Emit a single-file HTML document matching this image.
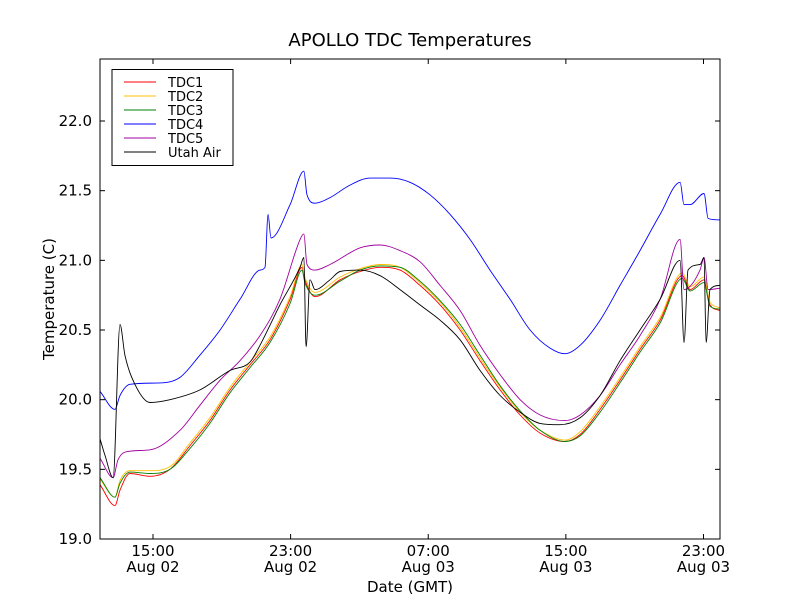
<!DOCTYPE html>
<html><head><meta charset="utf-8"><style>
body{margin:0;background:#fff;}
svg{display:block;font-family:"DejaVu Sans","Liberation Sans",sans-serif;}
</style></head><body>
<svg id="chart" width="800" height="600" viewBox="0 0 800 600">
<rect width="800" height="600" fill="#fff"/>
<text x="410" y="46" font-size="18" text-anchor="middle">APOLLO TDC Temperatures</text>
<g id="plot"></g>
<rect x="100" y="59" width="620" height="480" fill="none" stroke="#000" stroke-width="1"/>
<g id="axes"></g>
<text x="410" y="592" font-size="15" text-anchor="middle">Date (GMT)</text>
<text x="54" y="299" font-size="15" text-anchor="middle" transform="rotate(-90 54 299)">Temperature (C)</text>
<g id="legend"></g>
</svg>
<script>
// hours since Aug 02 00:00 GMT
const seriesNames = ["TDC1","TDC2","TDC3","TDC4","TDC5","Utah Air"];
const seriesColors = ["#ff0000","#ffbf00","#008000","#0000ff","#a000a0","#000000"];
const tdc1 = [[11.92,19.39],[12.79,19.24],[13.08,19.35],[13.66,19.47],[14.83,19.45],[15.99,19.50],[17.15,19.67],[18.31,19.85],[19.48,20.07],[20.64,20.25],[21.80,20.43],[22.97,20.72],[23.66,20.95],[23.83,20.86],[24.42,20.74],[25.87,20.86],[27.04,20.92],[28.20,20.95],[29.36,20.93],[30.52,20.82],[31.69,20.68],[32.85,20.50],[34.01,20.28],[35.18,20.07],[36.34,19.89],[37.50,19.76],[38.95,19.70],[39.83,19.75],[40.99,19.93],[42.15,20.14],[43.31,20.36],[44.48,20.57],[45.76,20.89],[46.22,20.79],[47.03,20.86],[47.38,20.68],[47.96,20.64]];
const tdc2 = [[11.92,19.43],[12.79,19.30],[13.08,19.42],[13.66,19.49],[14.83,19.49],[15.99,19.52],[17.15,19.69],[18.31,19.87],[19.48,20.09],[20.64,20.27],[21.80,20.45],[22.97,20.74],[23.66,20.97],[23.83,20.88],[24.42,20.77],[25.87,20.88],[27.04,20.94],[28.20,20.97],[29.36,20.95],[30.52,20.84],[31.69,20.70],[32.85,20.52],[34.01,20.30],[35.18,20.09],[36.34,19.91],[37.50,19.78],[38.95,19.71],[39.83,19.77],[40.99,19.95],[42.15,20.16],[43.31,20.38],[44.48,20.59],[45.76,20.91],[46.22,20.81],[47.03,20.88],[47.38,20.70],[47.96,20.66]];
const tdc3 = [[11.92,19.44],[12.79,19.30],[13.08,19.40],[13.66,19.48],[14.83,19.47],[15.99,19.50],[17.15,19.65],[18.31,19.83],[19.48,20.05],[20.64,20.23],[21.80,20.41],[22.97,20.69],[23.66,20.93],[23.83,20.84],[24.42,20.75],[25.87,20.85],[27.04,20.93],[28.20,20.96],[29.36,20.95],[30.52,20.85],[31.69,20.71],[32.85,20.54],[34.01,20.32],[35.18,20.10],[36.34,19.92],[37.50,19.78],[38.95,19.70],[39.83,19.74],[40.99,19.91],[42.15,20.12],[43.31,20.34],[44.48,20.55],[45.76,20.87],[46.22,20.78],[47.03,20.84],[47.38,20.67],[47.96,20.65]];
const tdc4 = [[11.92,20.06],[12.79,19.93],[13.08,20.03],[13.66,20.11],[15.41,20.12],[16.57,20.16],[17.73,20.32],[18.90,20.50],[20.06,20.72],[21.22,20.93],[21.51,20.95],[21.69,21.33],[21.86,21.16],[22.97,21.40],[23.77,21.64],[23.95,21.47],[24.42,21.41],[25.29,21.45],[26.45,21.54],[27.62,21.59],[28.78,21.59],[29.94,21.56],[31.10,21.47],[32.27,21.33],[33.43,21.15],[34.59,20.93],[35.76,20.72],[36.92,20.50],[38.08,20.37],[38.95,20.33],[39.83,20.39],[40.99,20.57],[42.15,20.82],[43.31,21.07],[44.48,21.33],[45.64,21.56],[45.87,21.40],[46.22,21.40],[47.03,21.48],[47.27,21.30],[47.96,21.29]];
const tdc5 = [[11.92,19.58],[12.68,19.44],[12.97,19.57],[13.66,19.63],[14.83,19.64],[16.57,19.78],[17.73,19.96],[18.90,20.14],[20.06,20.28],[21.22,20.46],[22.38,20.72],[23.55,21.15],[23.77,21.19],[23.95,20.97],[24.42,20.93],[25.29,20.97],[27.04,21.09],[28.20,21.11],[29.36,21.07],[30.52,20.99],[31.69,20.82],[32.85,20.64],[34.01,20.39],[35.18,20.18],[36.34,20.00],[37.50,19.89],[38.95,19.85],[39.83,19.89],[40.99,20.03],[42.15,20.25],[43.31,20.46],[44.48,20.72],[45.64,21.15],[45.87,20.79],[46.80,20.93],[47.03,21.02],[47.27,20.79],[47.96,20.80]];
const utahAir = [[11.92,19.72],[12.21,19.60],[12.68,19.44],[13.08,20.54],[13.37,20.32],[13.95,20.11],[14.83,19.98],[15.99,20.00],[17.73,20.07],[19.48,20.21],[20.64,20.27],[21.22,20.39],[22.38,20.68],[23.55,20.95],[23.77,21.02],[23.90,20.38],[24.13,20.86],[24.42,20.79],[25.29,20.86],[25.87,20.92],[27.04,20.93],[28.20,20.89],[29.36,20.79],[30.52,20.68],[31.69,20.57],[32.85,20.43],[34.01,20.21],[35.18,20.03],[36.34,19.91],[37.50,19.83],[38.66,19.82],[39.83,19.87],[40.99,20.03],[42.15,20.28],[43.31,20.50],[44.48,20.72],[45.64,21.00],[45.87,20.41],[46.10,20.93],[46.80,20.97],[47.03,21.02],[47.15,20.41],[47.38,20.79],[47.96,20.82]];
const yTicks = [19.0,19.5,20.0,20.5,21.0,21.5,22.0];
const xTicks = [15,23,31,39,47];
const xTickLabels = [["15:00","Aug 02"],["23:00","Aug 02"],["07:00","Aug 03"],["15:00","Aug 03"],["23:00","Aug 03"]];

const X0=100,X1=720,Y0=539,Y1=59;
const xMin=11.92,xMax=47.96,yMin=19.0,yMax=22.445;
const sx=h=>X0+(h-xMin)/(xMax-xMin)*(X1-X0);
const sy=v=>Y0-(v-yMin)/(yMax-yMin)*(Y0-Y1);
const NS="http://www.w3.org/2000/svg";
function mk(tag,attrs,parent){const e=document.createElementNS(NS,tag);for(const k in attrs)e.setAttribute(k,attrs[k]);parent.appendChild(e);return e;}

// monotone cubic path (no overshoot)
function monoPath(pts){
  const n=pts.length;const d=[],m=[];
  for(let i=0;i<n-1;i++)d.push((pts[i+1][1]-pts[i][1])/(pts[i+1][0]-pts[i][0]));
  m[0]=d[0];m[n-1]=d[n-2];
  for(let i=1;i<n-1;i++)m[i]=(d[i-1]*d[i]<=0)?0:(d[i-1]+d[i])/2;
  for(let i=0;i<n-1;i++){
    if(d[i]===0){m[i]=0;m[i+1]=0;continue;}
    const a=m[i]/d[i],b=m[i+1]/d[i],s=a*a+b*b;
    if(s>9){const t=3/Math.sqrt(s);m[i]=t*a*d[i];m[i+1]=t*b*d[i];}
  }
  let p='M'+pts[0][0].toFixed(1)+','+pts[0][1].toFixed(1);
  for(let i=0;i<n-1;i++){
    const h=(pts[i+1][0]-pts[i][0])/3;
    p+=' C'+(pts[i][0]+h).toFixed(1)+','+(pts[i][1]+m[i]*h).toFixed(1)+' '+(pts[i+1][0]-h).toFixed(1)+','+(pts[i+1][1]-m[i+1]*h).toFixed(1)+' '+pts[i+1][0].toFixed(1)+','+pts[i+1][1].toFixed(1);
  }
  return p;
}

const plot=document.getElementById('plot');
const allSeries=[tdc1,tdc2,tdc3,tdc4,tdc5,utahAir];
allSeries.forEach((s,i)=>{
  const pts=s.map(d=>[sx(d[0]),sy(d[1])]);
  const p=mk('path',{d:monoPath(pts),fill:'none',stroke:seriesColors[i],'stroke-width':0.9},plot);
  
  
});

const axes=document.getElementById('axes');
yTicks.forEach(v=>{
  const y=sy(v);
  mk('line',{x1:X0,y1:y,x2:X0+5,y2:y,stroke:'#000'},axes);
  mk('line',{x1:X1,y1:y,x2:X1-5,y2:y,stroke:'#000'},axes);
  const t=mk('text',{x:X0-8,y:y+5,'font-size':15,'text-anchor':'end'},axes);
  t.textContent=v.toFixed(1);
  
  
});
xTicks.forEach((h,i)=>{
  const x=sx(h);
  mk('line',{x1:x,y1:Y0,x2:x,y2:Y0-5,stroke:'#000'},axes);
  mk('line',{x1:x,y1:Y1,x2:x,y2:Y1+5,stroke:'#000'},axes);
  const t=mk('text',{x:x,y:556,'font-size':15,'text-anchor':'middle'},axes);
  
  
  const a=mk('tspan',{x:x,dy:0},t);a.textContent=xTickLabels[i][0];
  const b=mk('tspan',{x:x,dy:16},t);b.textContent=xTickLabels[i][1];
});

const lg=document.getElementById('legend');
mk('rect',{x:112,y:69.5,width:121,height:96,fill:'#fff',stroke:'#000'},lg);
seriesNames.forEach((n,i)=>{
  const y=82+i*14;
  const l=mk('line',{x1:124,y1:y,x2:156,y2:y,stroke:seriesColors[i],'stroke-width':1},lg);
  
  
  const t=mk('text',{x:168,y:y+5,'font-size':13},lg);
  t.textContent=n;
  
  
});
</script>
</body></html>
